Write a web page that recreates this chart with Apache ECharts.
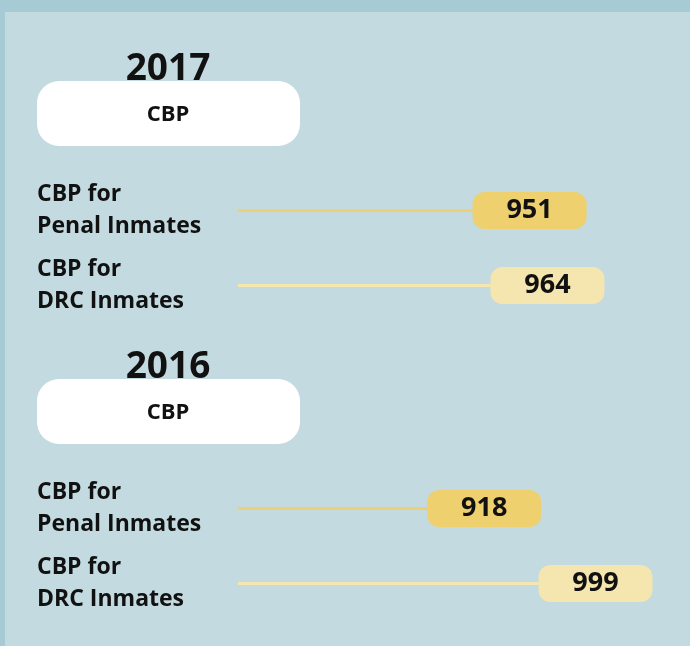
<!DOCTYPE html>
<html>
<head>
<meta charset="utf-8">
<script src="https://cdn.jsdelivr.net/npm/echarts@6/dist/echarts.min.js"></script>
<style>
  html, body { margin: 0; padding: 0; background: #a6cbd4; }
  #main { width: 690px; height: 646px; }
</style>
</head>
<body>
<div id="main"></div>
<script>
// data
const years = ['2017', '2016'];
const groupName = 'CBP';
const categories = ['CBP for\nPenal Inmates', 'CBP for\nDRC Inmates'];
const values2017 = [951, 964];
const values2016 = [918, 999];

// colors
const colorPenal = '#efd06e';
const colorDrc = '#f5e5ae';
const rowColors = [colorPenal, colorDrc];
const textColor = '#111111';
const fontFamily = '"Open Sans", sans-serif';

const gridTops = [173, 471];

function buildData(vals) {
    return vals.map((v, i) => ({
        value: v,
        itemStyle: { color: rowColors[i] },
        label: { backgroundColor: rowColors[i] }
    }));
}

function headerGraphics(year, top) {
    return [{
        type: 'text',
        x: 168,
        y: top - 12,
        style: {
            text: year,
            font: 'bold 37px ' + fontFamily,
            fill: textColor,
            align: 'center',
            verticalAlign: 'middle'
        }
    }, {
        type: 'rect',
        shape: { x: 37, y: top, width: 263, height: 65, r: 22 },
        style: { fill: '#ffffff' }
    }, {
        type: 'text',
        x: 168,
        y: top + 34,
        style: {
            text: groupName,
            font: 'bold 22px ' + fontFamily,
            fill: textColor,
            align: 'center',
            verticalAlign: 'middle'
        }
    }];
}

const chart = echarts.init(document.getElementById('main'));

const option = {
    backgroundColor: '#a6cbd4',
    animation: false,
    graphic: [{
        type: 'rect',
        z: -10,
        shape: { x: 5, y: 12, width: 685, height: 634 },
        style: { fill: '#c3dae0' }
    }].concat(headerGraphics(years[0], 81), headerGraphics(years[1], 379)),
    grid: gridTops.map(t => ({ left: 238, right: 40, top: t, height: 150 })),
    xAxis: gridTops.map((t, i) => ({
        type: 'value',
        gridIndex: i,
        min: 778,
        max: 1078,
        show: false
    })),
    yAxis: gridTops.map((t, i) => ({
        type: 'category',
        gridIndex: i,
        data: categories,
        inverse: true,
        axisLine: { show: false },
        axisTick: { show: false },
        splitLine: { show: false },
        axisLabel: {
            align: 'left',
            margin: 201,
            color: textColor,
            fontFamily: fontFamily,
            fontWeight: 'bold',
            fontSize: 23,
            lineHeight: 32,
            padding: [6, 0, 0, 0]
        }
    })),
    series: [values2017, values2016].map((vals, i) => ({
        name: years[i],
        type: 'bar',
        xAxisIndex: i,
        yAxisIndex: i,
        barWidth: 3,
        data: buildData(vals),
        label: {
            show: true,
            position: 'right',
            distance: 0,
            offset: [-3, 0],
            borderRadius: 12,
            padding: 0,
            formatter: '{p|{c}}',
            rich: {
                p: {
                    width: 114,
                    height: 37,
                    lineHeight: 37,
                    align: 'center',
                    verticalAlign: 'middle',
                    color: textColor,
                    fontFamily: fontFamily,
                    fontWeight: 'bold',
                    fontSize: 27
                }
            }
        }
    }))
};

chart.setOption(option);
</script>
</body>
</html>
